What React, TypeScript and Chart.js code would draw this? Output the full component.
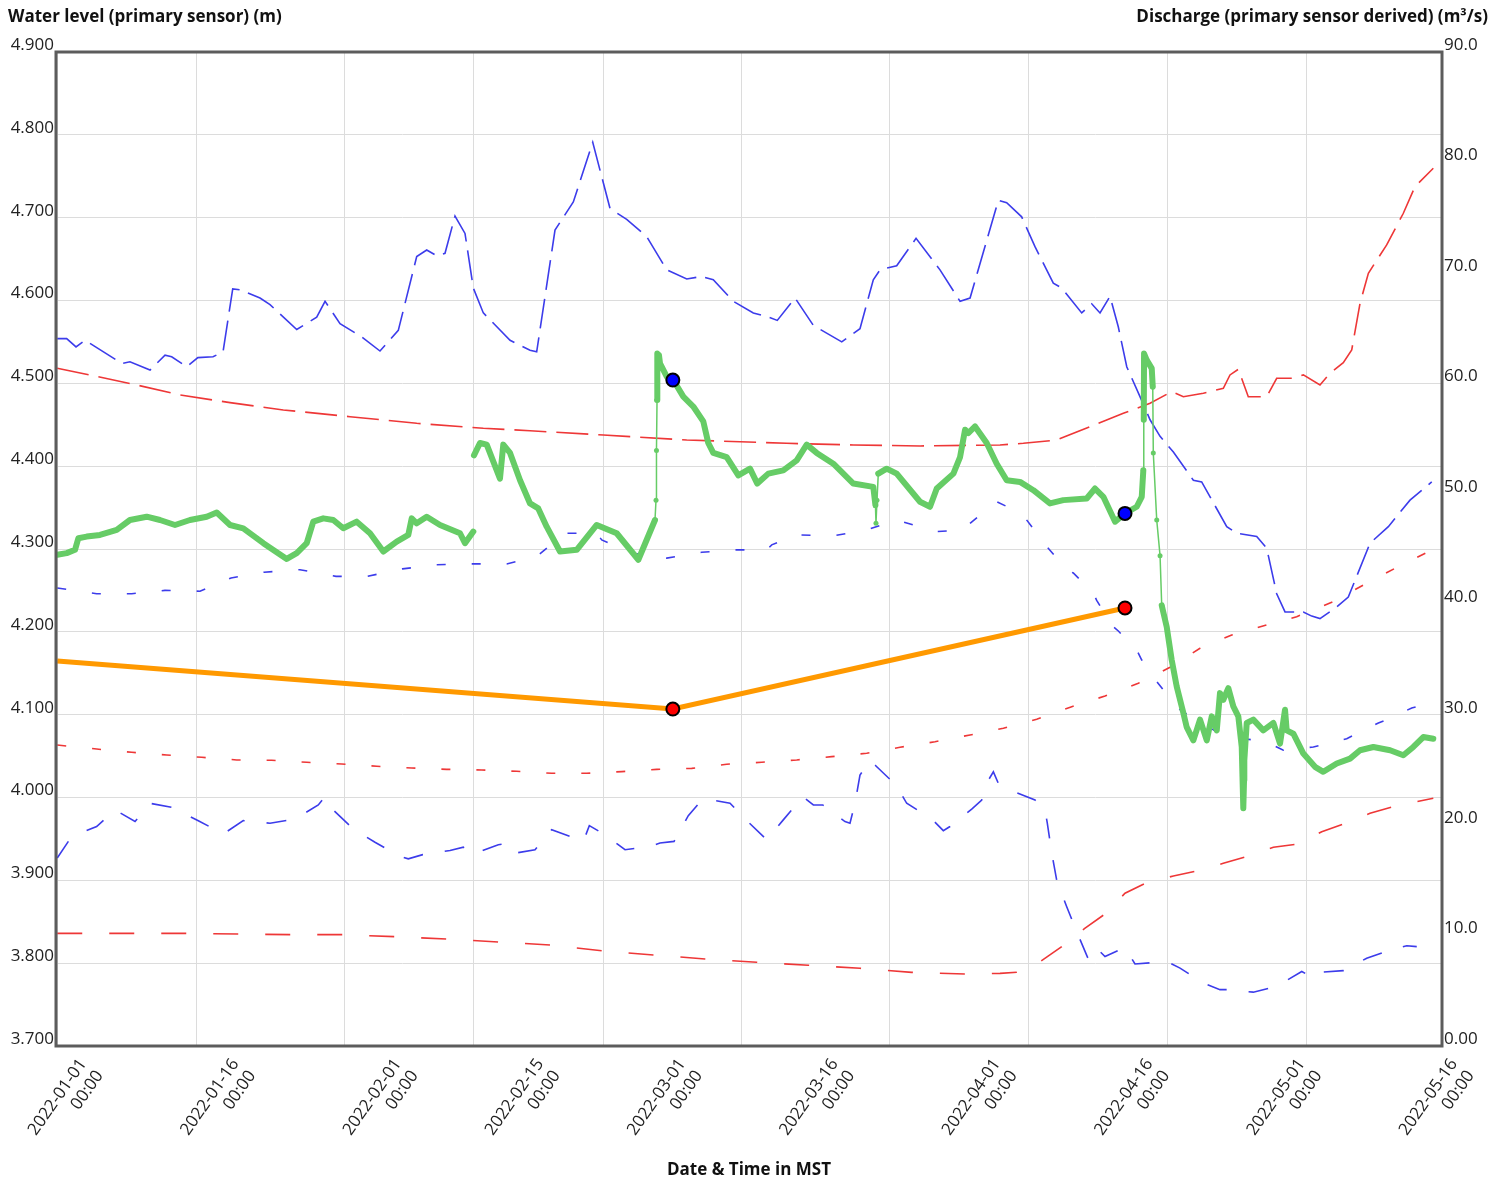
import { useEffect, useRef } from "react";
import { Chart, registerables } from "chart.js";

Chart.register(...registerables);

const FONT = "'Open Sans', 'Noto Sans', 'DejaVu Sans', sans-serif";

const LEFT_TITLE = "Water level (primary sensor) (m)";
const RIGHT_TITLE = "Discharge (primary sensor derived) (m³/s)";
const X_TITLE = "Date & Time in MST";

// x values are days since 2022-01-01 00:00 MST
const X_MIN = -0.135;
const X_MAX = 149.7;
const X_LABEL_SPAN = 136.48;
const X_TICK_DAYS = [0, 15, 31, 45, 59, 74, 90, 105, 120, 135];
const X_TICK_LABELS = [
  "2022-01-01", "2022-01-16", "2022-02-01", "2022-02-15", "2022-03-01",
  "2022-03-16", "2022-04-01", "2022-04-16", "2022-05-01", "2022-05-16",
];
const X_TICK_TIME = "00:00";

const Y_LEFT_TICKS = [3.7, 3.8, 3.9, 4.0, 4.1, 4.2, 4.3, 4.4, 4.5, 4.6, 4.7, 4.8, 4.9];
const Y_RIGHT_TICKS = [0, 10, 20, 30, 40, 50, 60, 70, 80, 90];
const Y_RIGHT_LABELS = ["0.00", "10.0", "20.0", "30.0", "40.0", "50.0", "60.0", "70.0", "80.0", "90.0"];

// Historical water level max (m)
const WL_MAX: [number, number][] = [
  [0, 4.554], [1.02, 4.554], [2.03, 4.544], [3.0, 4.552], [6.97, 4.524], [7.86, 4.526],
  [10.03, 4.516], [11.65, 4.534], [12.37, 4.532], [14.0, 4.52], [15.2, 4.531], [16.84, 4.532],
  [17.92, 4.538], [18.97, 4.614], [19.76, 4.613], [21.92, 4.603], [23.0, 4.595], [25.89, 4.565],
  [28.05, 4.58], [28.95, 4.599], [30.57, 4.572], [32.91, 4.556], [34.89, 4.539], [36.87, 4.564],
  [38.86, 4.653], [39.94, 4.661], [41.02, 4.654], [41.92, 4.657], [43.0, 4.702], [44.08, 4.681],
  [44.98, 4.615], [46.06, 4.585], [48.95, 4.552], [51.11, 4.54], [51.83, 4.538], [53.81, 4.685],
  [55.79, 4.719], [57.89, 4.791], [59.76, 4.711], [61.56, 4.698], [63.73, 4.677], [65.89, 4.637],
  [68.05, 4.626], [69.67, 4.629], [70.92, 4.625], [73.09, 4.599], [75.25, 4.585], [76.87, 4.58],
  [77.84, 4.576], [79.76, 4.603], [81.74, 4.57], [84.81, 4.55], [86.78, 4.566], [88.22, 4.625],
  [88.95, 4.637], [90.75, 4.642], [92.84, 4.675], [95.43, 4.637], [97.6, 4.599], [98.68, 4.603],
  [101.74, 4.721], [102.64, 4.718], [104.26, 4.701], [105.7, 4.665], [107.68, 4.621], [108.59, 4.615],
  [110.75, 4.585], [111.83, 4.596], [112.73, 4.585], [113.81, 4.605], [114.71, 4.568], [115.62, 4.52],
  [117.05, 4.484], [118.14, 4.456], [119.22, 4.436], [120.66, 4.417], [122.82, 4.383], [123.72, 4.381],
  [126.43, 4.327], [127.51, 4.319], [129.67, 4.315], [130.75, 4.301], [131.83, 4.246], [132.73, 4.224],
  [134.71, 4.224], [135.62, 4.219], [136.51, 4.216], [138.32, 4.23], [139.57, 4.242], [141.92, 4.307],
  [143.9, 4.327], [146.24, 4.359], [148.59, 4.381],
];

// Historical water level mean (m)
const WL_MEAN: [number, number][] = [
  [0, 4.253], [4.26, 4.246], [8.05, 4.246], [11.65, 4.25], [15.43, 4.249], [18.79, 4.265],
  [22.35, 4.272], [26.24, 4.275], [30.14, 4.267], [33.54, 4.267], [37.32, 4.276], [41.02, 4.281],
  [44.8, 4.282], [48.59, 4.282], [51.83, 4.291], [54.89, 4.319], [58.32, 4.319], [58.86, 4.311],
  [62.1, 4.295], [65.89, 4.289], [69.67, 4.296], [73.09, 4.299], [76.7, 4.299], [77.24, 4.305],
  [79.94, 4.317], [83.9, 4.316], [87.51, 4.323], [90.75, 4.335], [95.08, 4.321], [97.95, 4.323],
  [98.68, 4.331], [101.56, 4.357], [104.26, 4.343], [106.97, 4.303], [109.13, 4.275], [109.84, 4.271],
  [112.0, 4.247], [112.37, 4.238], [113.99, 4.208], [114.71, 4.201], [116.7, 4.178], [117.24, 4.166],
  [118.86, 4.14], [119.57, 4.13], [121.38, 4.106], [122.46, 4.098], [124.62, 4.084], [125.7, 4.077],
  [128.22, 4.071], [129.67, 4.069], [131.47, 4.063], [132.55, 4.057], [135.79, 4.061], [136.51, 4.063],
  [139.4, 4.071], [140.11, 4.075], [142.82, 4.09], [143.72, 4.094], [146.43, 4.108], [147.14, 4.11],
];

// Historical water level min (m)
const WL_MIN: [number, number][] = [
  [0, 3.927], [1.56, 3.953], [4.26, 3.965], [6.24, 3.985], [8.41, 3.971], [10.03, 3.993],
  [12.91, 3.987], [14.0, 3.979], [15.25, 3.972], [17.95, 3.956], [20.11, 3.972], [23.0, 3.969],
  [25.7, 3.974], [28.22, 3.991], [28.95, 4.001], [29.92, 3.984], [32.0, 3.962], [34.35, 3.946],
  [37.05, 3.929], [37.95, 3.926], [39.51, 3.931], [42.46, 3.936], [43.9, 3.94], [44.8, 3.931],
  [47.68, 3.943], [48.87, 3.945], [49.6, 3.933], [51.65, 3.937], [53.45, 3.961], [55.97, 3.951],
  [56.87, 3.947], [57.52, 3.966], [59.22, 3.955], [61.38, 3.937], [64.08, 3.941], [65.16, 3.945],
  [66.68, 3.947], [68.22, 3.978], [69.84, 3.999], [72.73, 3.993], [74.64, 3.971], [76.7, 3.949],
  [78.49, 3.973], [80.59, 4.001], [81.74, 3.991], [82.75, 3.991], [85.16, 3.971], [85.7, 3.969],
  [86.24, 3.993], [86.78, 4.027], [87.86, 4.045], [88.51, 4.038], [90.68, 4.015], [91.83, 3.993],
  [94.54, 3.974], [95.79, 3.96], [96.51, 3.965], [98.86, 3.986], [99.94, 3.997], [100.19, 4.012],
  [101.2, 4.031], [101.74, 4.017], [103.0, 4.009], [105.7, 3.997], [106.78, 3.985], [107.03, 3.969],
  [107.51, 3.933], [108.05, 3.9], [109.13, 3.868], [110.21, 3.838], [111.65, 3.8], [112.73, 3.814],
  [113.27, 3.808], [115.43, 3.819], [116.51, 3.799], [118.86, 3.801], [120.3, 3.8], [121.38, 3.794],
  [123.9, 3.776], [125.7, 3.768], [126.43, 3.768], [129.3, 3.765], [131.83, 3.772], [134.54, 3.79],
  [135.79, 3.782], [136.51, 3.789], [139.03, 3.791], [141.56, 3.806], [144.44, 3.817], [145.89, 3.821],
  [146.97, 3.82],
];

// Historical discharge max (m³/s)
const Q_MAX: [number, number][] = [
  [0, 61.36], [3.54, 60.76], [8.59, 59.85], [13.27, 58.95], [18.68, 58.25], [24.44, 57.59],
  [31.65, 56.98], [38.86, 56.38], [46.06, 55.93], [51.11, 55.71], [59.03, 55.32], [68.05, 54.87],
  [78.86, 54.57], [86.06, 54.42], [93.27, 54.33], [101.92, 54.42], [104.44, 54.57], [108.05, 54.87],
  [111.65, 56.08], [115.25, 57.29], [118.14, 58.19], [120.48, 59.25], [121.74, 58.79], [123.9, 59.1],
  [126.06, 59.55], [126.78, 60.76], [127.68, 61.27], [128.76, 58.79], [130.75, 58.79], [131.83, 60.46],
  [133.63, 60.46], [134.71, 60.76], [136.51, 59.85], [137.59, 60.91], [139.03, 61.87], [139.94, 63.02],
  [140.84, 67.25], [141.74, 69.97], [143.72, 72.53], [145.52, 75.4], [146.78, 77.81], [148.76, 79.47],
];

// Historical discharge mean (m³/s)
const Q_MEAN: [number, number][] = [
  [0, 27.25], [4.26, 26.89], [8.05, 26.59], [11.83, 26.35], [15.62, 26.14], [19.4, 25.9],
  [23.18, 25.87], [26.97, 25.69], [30.75, 25.53], [34.54, 25.33], [38.32, 25.17], [42.1, 25.05],
  [45.89, 24.99], [49.67, 24.87], [53.45, 24.69], [57.24, 24.69], [61.02, 24.84], [64.81, 25.05],
  [68.59, 25.14], [72.37, 25.51], [76.16, 25.69], [79.94, 25.9], [83.72, 26.2], [87.51, 26.5],
  [91.11, 27.05], [94.89, 27.55], [98.68, 28.16], [102.28, 28.77], [105.89, 29.58], [109.67, 30.72],
  [113.27, 31.69], [116.87, 32.84], [120.3, 34.29], [123.54, 36.01], [126.97, 37.21], [130.75, 38.12],
  [133.99, 38.87], [137.95, 40.23], [141.2, 41.74], [144.62, 43.25], [148.62, 44.91],
];

// Historical discharge min (m³/s)
const Q_MIN: [number, number][] = [
  [0, 10.2], [14.0, 10.2], [25.24, 10.08], [30.86, 10.08], [36.51, 9.9], [42.1, 9.69],
  [47.68, 9.42], [53.27, 9.15], [58.86, 8.63], [64.44, 8.24], [70.03, 7.88], [75.62, 7.58],
  [81.19, 7.31], [86.78, 7.04], [92.37, 6.67], [98.14, 6.52], [101.92, 6.58], [103.72, 6.67],
  [106.24, 7.63], [108.59, 8.99], [111.08, 10.66], [113.27, 11.95], [115.43, 13.83], [117.78, 14.79],
  [120.66, 15.39], [123.36, 15.87], [126.06, 16.54], [128.76, 17.2], [131.47, 17.99], [134.17, 18.29],
  [136.7, 19.4], [139.22, 20.16], [141.92, 21.07], [144.62, 21.73], [148.76, 22.43],
];

// Water level, primary sensor (m); null marks the data gap
const WL_SENSOR: [number, number | null][] = [
  [0, 4.293], [1.02, 4.295], [1.92, 4.299], [2.28, 4.313], [3.18, 4.315], [4.62, 4.317],
  [6.43, 4.323], [7.86, 4.335], [9.67, 4.339], [11.11, 4.335], [12.73, 4.329], [14.35, 4.335],
  [16.16, 4.339], [17.24, 4.344], [18.68, 4.329], [20.11, 4.325], [22.28, 4.307], [24.81, 4.288],
  [25.89, 4.295], [26.97, 4.307], [27.68, 4.333], [28.76, 4.337], [29.84, 4.335], [30.92, 4.325],
  [32.37, 4.333], [33.81, 4.319], [35.25, 4.297], [36.7, 4.309], [37.95, 4.317], [38.32, 4.337],
  [38.86, 4.331], [39.94, 4.339], [41.38, 4.329], [43.54, 4.319], [44.08, 4.307], [44.98, 4.321],
  [45.01, null],
  [45.05, 4.413], [45.7, 4.428], [46.43, 4.426], [47.86, 4.385], [48.22, 4.426], [48.95, 4.416],
  [50.03, 4.383], [51.11, 4.355], [52.0, 4.349], [52.91, 4.327], [54.35, 4.297], [56.16, 4.299],
  [58.32, 4.329], [60.48, 4.319], [62.82, 4.287], [64.62, 4.335], [64.73, 4.359], [64.78, 4.419],
  [64.84, 4.48], [64.87, 4.536], [65.05, 4.534], [65.16, 4.524], [65.89, 4.508], [66.6, 4.504],
  [67.68, 4.484], [68.76, 4.472], [69.84, 4.454], [70.38, 4.428], [70.92, 4.416], [72.37, 4.411],
  [73.63, 4.389], [74.89, 4.397], [75.68, 4.379], [76.87, 4.391], [78.49, 4.395], [79.94, 4.407],
  [81.02, 4.426], [82.1, 4.416], [83.9, 4.403], [86.06, 4.379], [88.22, 4.375], [88.45, 4.353],
  [88.51, 4.331], [88.62, 4.359], [88.76, 4.391], [89.67, 4.397], [90.75, 4.391], [93.27, 4.357],
  [94.35, 4.351], [95.08, 4.373], [96.88, 4.391], [97.6, 4.411], [98.14, 4.444], [98.49, 4.44],
  [99.22, 4.448], [100.48, 4.428], [101.56, 4.403], [102.64, 4.383], [104.08, 4.381], [105.52, 4.371],
  [107.32, 4.355], [108.76, 4.359], [111.29, 4.361], [112.19, 4.373], [113.09, 4.363], [114.36, 4.333],
  [115.43, 4.343], [116.7, 4.351], [117.24, 4.363], [117.41, 4.395], [117.46, 4.456], [117.49, 4.536],
  [117.78, 4.528], [118.32, 4.518], [118.43, 4.496], [118.49, 4.416], [118.86, 4.335], [119.22, 4.292],
  [119.4, 4.232], [119.94, 4.206], [120.48, 4.166], [121.02, 4.134], [121.74, 4.102], [122.1, 4.085],
  [122.82, 4.069], [123.54, 4.094], [124.27, 4.069], [124.81, 4.098], [125.35, 4.081], [125.7, 4.126],
  [126.06, 4.118], [126.6, 4.132], [127.14, 4.11], [127.68, 4.098], [128.05, 4.061], [128.14, 4.021],
  [128.22, 3.987], [128.3, 4.021], [128.33, 4.045], [128.59, 4.09], [129.3, 4.094], [130.38, 4.081],
  [131.47, 4.09], [132.19, 4.065], [132.73, 4.106], [132.91, 4.081], [133.63, 4.077], [134.71, 4.053],
  [135.97, 4.037], [136.87, 4.031], [138.32, 4.041], [139.76, 4.047], [140.84, 4.057], [142.28, 4.061],
  [144.09, 4.057], [145.52, 4.051], [146.6, 4.061], [147.68, 4.073], [148.76, 4.071],
];

// Day windows where the sensor record is sparse (drawn as thin line with visible samples)
const SPARSE_WINDOWS: [number, number][] = [[64.6, 64.85], [88.4, 88.8], [117.3, 117.48], [118.4, 119.4]];

// Discharge line (m³/s) and field measurements
const Q_LINE: [number, number][] = [[0, 34.86], [66.55, 30.51], [115.43, 39.66]];
const Q_MEASURED: [number, number][] = [[66.55, 30.51], [115.43, 39.66]];
const WL_MEASURED: [number, number][] = [[66.55, 4.504], [115.43, 4.343]];

const toXY = (arr: [number, number | null][]) => arr.map(([x, y]) => ({ x, y }));

const inSparse = (d: number) => SPARSE_WINDOWS.some(([a, b]) => d >= a && d <= b);

const framePlugin = {
  id: "frameAndTitles",
  afterDatasetsDraw(chart: any) {
    const { ctx, chartArea: a } = chart;
    ctx.save();
    ctx.strokeStyle = "#5c5c5c";
    ctx.lineWidth = 3;
    ctx.strokeRect(a.left, a.top, a.right - a.left, a.bottom - a.top);
    ctx.restore();
  },
  afterDraw(chart: any) {
    const { ctx, width } = chart;
    ctx.save();
    ctx.font = `bold 17px ${FONT}`;
    ctx.fillStyle = "#111";
    ctx.textBaseline = "middle";
    ctx.textAlign = "left";
    ctx.fillText(LEFT_TITLE, 8, 17);
    ctx.textAlign = "right";
    ctx.fillText(RIGHT_TITLE, width - 19, 17);
    ctx.restore();
  },
};

const setTicks = (values: number[]) => (scale: any) => {
  scale.ticks = values.map((v) => ({ value: v }));
};

export default function App() {
  const ref = useRef<HTMLCanvasElement | null>(null);

  useEffect(() => {
    document.body.style.margin = "0";
    const canvas = ref.current;
    if (!canvas) return;

    const histLine = (data: [number, number][], color: string, dash: number[], axis: string, order: number) => ({
      data: toXY(data),
      yAxisID: axis,
      xAxisID: "x",
      borderColor: color,
      backgroundColor: color,
      borderWidth: 1.6,
      borderDash: dash,
      pointRadius: 0,
      tension: 0,
      order,
    });

    const chart = new Chart(canvas, {
      type: "line",
      data: {
        datasets: [
          {
            label: "Field water level",
            data: toXY(WL_MEASURED),
            yAxisID: "y",
            xAxisID: "x",
            showLine: false,
            pointRadius: 6.5,
            pointBackgroundColor: "#0000ff",
            pointBorderColor: "#000000",
            pointBorderWidth: 2,
            order: 0,
          },
          {
            label: "Field discharge",
            data: toXY(Q_MEASURED),
            yAxisID: "y1",
            xAxisID: "x",
            showLine: false,
            pointRadius: 6.5,
            pointBackgroundColor: "#ff0000",
            pointBorderColor: "#000000",
            pointBorderWidth: 2,
            order: 0,
          },
          {
            label: "Discharge",
            data: toXY(Q_LINE),
            yAxisID: "y1",
            xAxisID: "x",
            borderColor: "#ff9900",
            backgroundColor: "#ff9900",
            borderWidth: 5,
            pointRadius: 0,
            tension: 0,
            order: 1,
          },
          {
            label: "Water level (primary sensor)",
            data: toXY(WL_SENSOR),
            yAxisID: "y",
            xAxisID: "x",
            borderColor: "#66cc66",
            backgroundColor: "#66cc66",
            borderWidth: 6,
            borderJoinStyle: "round",
            borderCapStyle: "round",
            pointRadius: (ctx: any) => {
              const p = WL_SENSOR[ctx.dataIndex];
              return p && inSparse(p[0]) ? 2.5 : 0;
            },
            pointBorderWidth: 0,
            pointBackgroundColor: "#66cc66",
            spanGaps: false,
            tension: 0,
            segment: {
              borderWidth: (ctx: any) => {
                const a = WL_SENSOR[ctx.p0DataIndex];
                const b = WL_SENSOR[ctx.p1DataIndex];
                return a && b && inSparse(a[0]) && inSparse(b[0]) ? 1.5 : undefined;
              },
            },
            order: 2,
          },
          histLine(WL_MAX, "rgb(60,60,235)", [30, 9], "y", 3),
          histLine(WL_MEAN, "rgb(60,60,235)", [9, 26], "y", 3),
          histLine(WL_MIN, "rgb(60,60,235)", [20, 22], "y", 3),
          histLine(Q_MAX, "rgb(238,55,55)", [32, 10], "y1", 3),
          histLine(Q_MEAN, "rgb(238,55,55)", [9, 26], "y1", 3),
          histLine(Q_MIN, "rgb(238,55,55)", [25, 27], "y1", 3),
        ] as any,
      },
      options: {
        responsive: false,
        animation: false,
        layout: { padding: { top: 52, left: 0, right: 0, bottom: 0 } },
        plugins: {
          legend: { display: false },
          tooltip: { enabled: false },
        },
        scales: {
          x: {
            type: "linear",
            position: "bottom",
            min: X_MIN,
            max: X_MAX,
            afterBuildTicks: setTicks(X_TICK_DAYS),
            grid: { color: "#dcdcdc", lineWidth: 1, drawTicks: false },
            border: { display: false },
            ticks: { display: false },
          },
          xl: {
            type: "linear",
            position: "bottom",
            min: 0,
            max: X_LABEL_SPAN,
            afterBuildTicks: setTicks(X_TICK_DAYS),
            afterFit: (s: any) => {
              s.height = 134;
              s.paddingLeft = 0;
              s.paddingRight = 0;
            },
            grid: { display: false, drawTicks: false },
            border: { display: false },
            ticks: {
              autoSkip: false,
              minRotation: 55,
              maxRotation: 55,
              padding: 9,
              labelOffset: 27,
              color: "#222",
              font: { family: FONT, size: 17 },
              callback: (_v: any, i: number) => [X_TICK_LABELS[i], X_TICK_TIME],
            },
            title: {
              display: true,
              text: X_TITLE,
              color: "#111",
              font: { family: FONT, size: 17, weight: "bold" },
              padding: { top: 0, bottom: 0 },
            },
          },
          y: {
            type: "linear",
            position: "left",
            min: 3.7,
            max: 4.9,
            afterBuildTicks: setTicks(Y_LEFT_TICKS),
            afterFit: (s: any) => {
              s.width = 56;
            },
            grid: { color: "#dcdcdc", lineWidth: 1, drawTicks: false },
            border: { display: false },
            ticks: {
              padding: 2,
              labelOffset: -7,
              color: "#222",
              font: { family: FONT, size: 17 },
              callback: (v: any) => Number(v).toFixed(3),
            },
          },
          y1: {
            type: "linear",
            position: "right",
            min: 0,
            max: 90,
            afterBuildTicks: setTicks(Y_RIGHT_TICKS),
            afterFit: (s: any) => {
              s.width = 65;
            },
            grid: { display: false, drawTicks: false },
            border: { display: false },
            ticks: {
              padding: 2,
              labelOffset: -7,
              color: "#222",
              font: { family: FONT, size: 17 },
              callback: (_v: any, i: number) => Y_RIGHT_LABELS[i],
            },
          },
        } as any,
      },
      plugins: [framePlugin],
    });

    return () => chart.destroy();
  }, []);

  return (
    <div style={{ width: 1507, height: 1180 }}>
      <canvas ref={ref} width={1507} height={1180} style={{ display: "block" }} />
    </div>
  );
}
